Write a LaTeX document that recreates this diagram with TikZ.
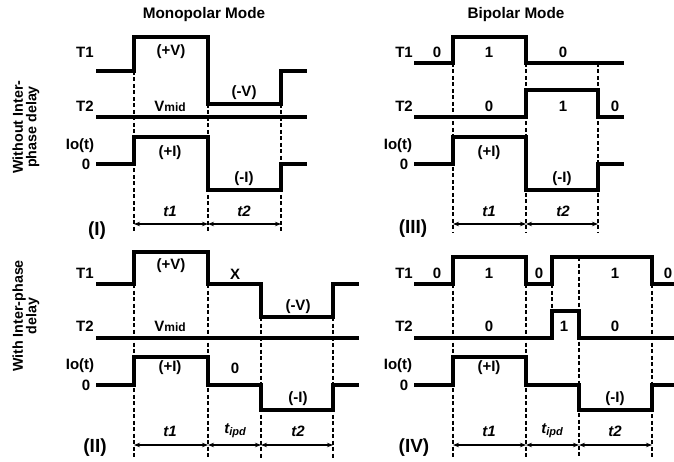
\documentclass[tikz,border=0pt]{standalone}
\usepackage{fontspec}
\setmainfont{Liberation Sans}
\usetikzlibrary{arrows.meta}
\tikzset{
  wave/.style={line width=3.1pt, line join=miter, line cap=butt},
  guide/.style={line width=1.1pt, dash pattern=on 4pt off 2.5pt},
  dim/.style={line width=1.1pt, {Stealth[length=6pt,width=4.5pt]}-{Stealth[length=6pt,width=4.5pt]}},
  lbl/.style={font=\fontsize{15}{17}\selectfont\bfseries, inner sep=0pt},
  ttl/.style={font=\fontsize{15.3}{17}\selectfont\bfseries, inner sep=0pt},
  pname/.style={font=\fontsize{19}{21}\selectfont\bfseries, inner sep=0pt},
  side/.style={font=\fontsize{14.3}{13.5}\selectfont\bfseries, inner sep=0pt, align=center, rotate=90},
  tl/.style={font=\fontsize{15}{17}\selectfont\bfseries\itshape, inner sep=0pt}
}
\newcommand{\vmid}{V{\fontsize{12}{13}\selectfont mid}}
\newcommand{\tipd}{t\raisebox{-2pt}{\fontsize{11}{12}\selectfont ipd}}
\begin{document}
\begin{tikzpicture}[x=1pt,y=-1pt]
\useasboundingbox (0,0) rectangle (674,462);
% titles
\node[ttl] (tmono) at (204,15) {Monopolar Mode};
\node[ttl] (tbip) at (516,15) {Bipolar Mode};
\node[side] (s1) at (26,127) {Without Inter-\\phase delay};
\node[side] (s2) at (26,316) {With Inter-phase\\delay};

% ---------------- Panel I ----------------
\draw[guide] (134,71) -- (134,233);
\draw[guide] (208,104) -- (208,233);
\draw[guide] (281,104) -- (281,233);
\draw[wave] (96,71) -- (134,71) -- (134,37) -- (208,37) -- (208,104) -- (281,104) -- (281,71) -- (307,71);
\draw[wave] (96,117) -- (307,117);
\draw[wave] (96,164) -- (134,164) -- (134,137) -- (208,137) -- (208,190) -- (281,190) -- (281,164) -- (307,164);
\coordinate (i1) at (134,224); \coordinate (i2) at (208,224); \coordinate (i3) at (281,224);
\draw[dim] (i1) -- (i2);
\draw[dim] (i2) -- (i3);
\node[lbl] (iT1) at (85,52) {T1};
\node[lbl] (iT2) at (85,106) {T2};
\node[lbl] (iIo) at (80,146) {Io(t)};
\node[lbl] (iZ) at (86,164) {0};
\node[lbl] (ipv) at (171,52) {(+V)};
\node[lbl] (imv) at (244,93) {(-V)};
\node[lbl] (ivm) at (170,106) {\vmid};
\node[lbl] (ipi) at (170,153) {(+I)};
\node[lbl] (imi) at (244,179) {(-I)};
\node[tl] (it1) at (170,211) {t1};
\node[tl] (it2) at (244,211) {t2};
\node[pname] (iname) at (97,231) {(I)};

% ---------------- Panel III ----------------
\draw[guide] (453,63) -- (453,233);
\draw[guide] (526,63) -- (526,233);
\draw[guide] (598,63) -- (598,233);
\draw[wave] (414,63) -- (453,63) -- (453,37) -- (526,37) -- (526,63) -- (624,63);
\draw[wave] (414,117) -- (526,117) -- (526,90) -- (598,90) -- (598,117) -- (624,117);
\draw[wave] (414,164) -- (453,164) -- (453,137) -- (526,137) -- (526,190) -- (598,190) -- (598,164) -- (624,164);
\coordinate (k1) at (453,224); \coordinate (k2) at (526,224); \coordinate (k3) at (598,224);
\draw[dim] (k1) -- (k2);
\draw[dim] (k2) -- (k3);
\node[lbl] (kT1) at (404,52) {T1};
\node[lbl] (kT2) at (404,106) {T2};
\node[lbl] (kIo) at (398,146) {Io(t)};
\node[lbl] (kZ) at (404,164) {0};
\node[lbl] (ka) at (437,52) {0};
\node[lbl] (kb) at (489,52) {1};
\node[lbl] (kc) at (563,52) {0};
\node[lbl] (kd) at (489,106) {0};
\node[lbl] (ke) at (563,106) {1};
\node[lbl] (kf) at (615,106) {0};
\node[lbl] (kpi) at (489,153) {(+I)};
\node[lbl] (kmi) at (562,179) {(-I)};
\node[tl] (kt1) at (489,211) {t1};
\node[tl] (kt2) at (563,211) {t2};
\node[pname] (kname) at (413,229) {(III)};

% ---------------- Panel II ----------------
\draw[guide] (134,284) -- (134,458);
\draw[guide] (208,284) -- (208,458);
\draw[guide] (261,317) -- (261,458);
\draw[guide] (333,317) -- (333,458);
\draw[wave] (96,284) -- (134,284) -- (134,252) -- (208,252) -- (208,284) -- (261,284) -- (261,317) -- (333,317) -- (333,284) -- (359,284);
\draw[wave] (96,338) -- (359,338);
\draw[wave] (96,385) -- (134,385) -- (134,357) -- (208,357) -- (208,385) -- (261,385) -- (261,410) -- (333,410) -- (333,385) -- (359,385);
\coordinate (j1) at (134,445); \coordinate (j2) at (208,445); \coordinate (j3) at (261,445); \coordinate (j4) at (333,445);
\draw[dim] (j1) -- (j2);
\draw[dim] (j2) -- (j3);
\draw[dim] (j3) -- (j4);
\node[lbl] (jT1) at (85,273) {T1};
\node[lbl] (jT2) at (85,326) {T2};
\node[lbl] (jIo) at (80,366) {Io(t)};
\node[lbl] (jZ) at (86,385) {0};
\node[lbl] (jpv) at (171,266) {(+V)};
\node[lbl] (jx) at (235,274) {X};
\node[lbl] (jmv) at (298,307) {(-V)};
\node[lbl] (jvm) at (170,326) {\vmid};
\node[lbl] (jpi) at (170,368) {(+I)};
\node[lbl] (jz2) at (235,368) {0};
\node[lbl] (jmi) at (298,399) {(-I)};
\node[tl] (jt1) at (170,431) {t1};
\node[tl] (jtp) at (235,431) {\tipd};
\node[tl] (jt2) at (298,431) {t2};
\node[pname] (jname) at (95,448) {(II)};

% ---------------- Panel IV ----------------
\draw[guide] (453,284) -- (453,458);
\draw[guide] (526,284) -- (526,458);
\draw[guide] (552,284) -- (552,311);
\draw[guide] (579,257) -- (579,458);
\draw[guide] (652,284) -- (652,458);
\draw[wave] (414,284) -- (453,284) -- (453,257) -- (526,257) -- (526,284) -- (552,284) -- (552,257) -- (652,257) -- (652,284) -- (674,284);
\draw[wave] (414,338) -- (552,338) -- (552,311) -- (579,311) -- (579,338) -- (674,338);
\draw[wave] (414,385) -- (453,385) -- (453,357) -- (526,357) -- (526,385) -- (579,385) -- (579,410) -- (652,410) -- (652,385) -- (674,385);
\coordinate (m1) at (453,445); \coordinate (m2) at (526,445); \coordinate (m3) at (579,445); \coordinate (m4) at (652,445);
\draw[dim] (m1) -- (m2);
\draw[dim] (m2) -- (m3);
\draw[dim] (m3) -- (m4);
\node[lbl] (mT1) at (404,273) {T1};
\node[lbl] (mT2) at (404,326) {T2};
\node[lbl] (mIo) at (398,366) {Io(t)};
\node[lbl] (mZ) at (404,385) {0};
\node[lbl] (ma) at (437,273) {0};
\node[lbl] (mb) at (489,273) {1};
\node[lbl] (mc) at (539,273) {0};
\node[lbl] (md) at (615,273) {1};
\node[lbl] (me) at (668,273) {0};
\node[lbl] (mf) at (489,326) {0};
\node[lbl] (mg) at (564,326) {1};
\node[lbl] (mh) at (615,326) {0};
\node[lbl] (mpi) at (489,368) {(+I)};
\node[lbl] (mmi) at (615,399) {(-I)};
\node[tl] (mt1) at (489,431) {t1};
\node[tl] (mtp) at (552,431) {\tipd};
\node[tl] (mt2) at (615,431) {t2};
\node[pname] (mname) at (414,448) {(IV)};
\end{tikzpicture}
\end{document}
